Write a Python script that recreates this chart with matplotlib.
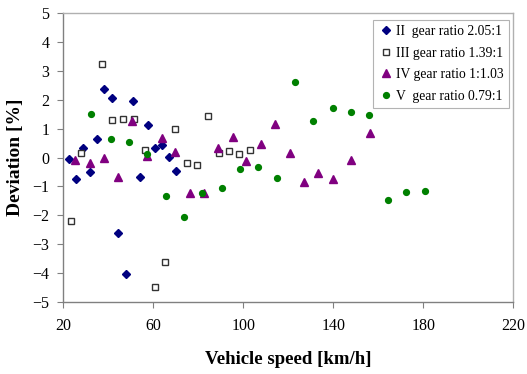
import numpy as np
import matplotlib
matplotlib.use('Agg')
import matplotlib.pyplot as plt

plt.rcParams['font.family'] = ['Liberation Serif', 'DejaVu Serif']

# Gear II
speed_ii = [22.4, 25.6, 28.6, 31.9, 35.1, 38.2, 41.6, 44.4, 47.9, 51.0, 54.2, 57.5, 60.8, 64.0, 66.8, 70.1]
dev_ii = [-0.03, -0.74, 0.32, -0.50, 0.64, 2.38, 2.06, -2.62, -4.05, 1.97, -0.67, 1.14, 0.32, 0.43, 0.03, -0.47]

# Gear III
speed_iii = [23.3, 28.0, 37.3, 41.8, 46.7, 51.3, 56.2, 60.6, 65.3, 69.8, 74.8, 79.6, 84.2, 89.1, 93.6, 98.1, 102.8]
dev_iii = [-2.19, 0.17, 3.25, 1.32, 1.35, 1.35, 0.27, -4.47, -3.62, 1.00, -0.17, -0.26, 1.44, 0.17, 0.24, 0.11, 0.27]

# Gear IV
speed_iv = [25.2, 31.9, 38.0, 44.4, 50.7, 57.1, 63.7, 69.8, 76.3, 82.4, 88.9, 95.4, 101.4, 108.0,
            114.1, 120.8, 126.8, 133.3, 139.9, 148.0, 156.2]
dev_iv = [-0.09, -0.17, -0.01, -0.67, 1.27, 0.06, 0.67, 0.18, -1.23, -1.22, 0.32, 0.70, -0.10, 0.47,
          1.17, 0.15, -0.84, -0.54, -0.75, -0.07, 0.87]

# Gear V
speed_v = [32.4, 41.1, 49.2, 57.3, 65.5, 73.6, 81.6, 90.4, 98.5, 106.5, 114.8, 123.0, 131.1, 139.7,
           147.9, 156.0, 164.2, 172.2, 180.8]
dev_v = [1.53, 0.65, 0.53, 0.11, -1.32, -2.06, -1.22, -1.07, -0.40, -0.33, -0.71, 2.62, 1.26, 1.73,
         1.57, 1.47, -1.46, -1.20, -1.14]

labels = ['II  gear ratio 2.05:1', 'III gear ratio 1.39:1', 'IV gear ratio 1:1.03', 'V  gear ratio 0.79:1']
x_ticks = [20, 60, 100, 140, 180, 220]
y_ticks = [-5, -4, -3, -2, -1, 0, 1, 2, 3, 4, 5]

fig = plt.figure(figsize=(5.27, 3.74), dpi=100)
ax = fig.add_axes([0.120, 0.193, 0.854, 0.771])

ax.plot(speed_ii, dev_ii, 'D', color='#000080', markersize=4.2, linestyle='none', label=labels[0])
ax.plot(speed_iii, dev_iii, 's', markerfacecolor='white', markeredgecolor='#333333', markeredgewidth=1.0,
        markersize=4.2, linestyle='none', label=labels[1])
ax.plot(speed_iv, dev_iv, '^', color='#800080', markersize=5.5, linestyle='none', label=labels[2])
ax.plot(speed_v, dev_v, 'o', color='#008000', markersize=4.2, linestyle='none', label=labels[3])

ax.set_xlim(20, 220)
ax.set_ylim(-5, 5)
ax.set_xticks(x_ticks)
ax.set_yticks(y_ticks)
ax.tick_params(direction='out', length=4, width=0.8, color='#808080', labelsize=11.5)
ax.tick_params(axis='x', pad=8)
ax.tick_params(axis='y', pad=6)

for side in ['left', 'bottom']:
    ax.spines[side].set_color('#808080')
    ax.spines[side].set_linewidth(1.0)
for side in ['top', 'right']:
    ax.spines[side].set_color('#b0b0b0')
    ax.spines[side].set_linewidth(1.0)

ax.set_xlabel('Vehicle speed [km/h]', fontsize=13.5, fontweight='bold', labelpad=12)
ax.set_ylabel('Deviation [%]', fontsize=14, fontweight='bold', labelpad=6)

# legend box sits at the top right inside the plot area
leg = ax.legend(loc='upper right', bbox_to_anchor=(0.990, 0.978), fontsize=9.8, frameon=True, fancybox=False,
                borderpad=0.4, handletextpad=0.25, handlelength=1.0, labelspacing=0.62,
                borderaxespad=0.0)
leg.get_frame().set_edgecolor('#a0a0a0')
leg.get_frame().set_linewidth(0.8)

plt.savefig('out.png', dpi=100)
plt.close(fig)
